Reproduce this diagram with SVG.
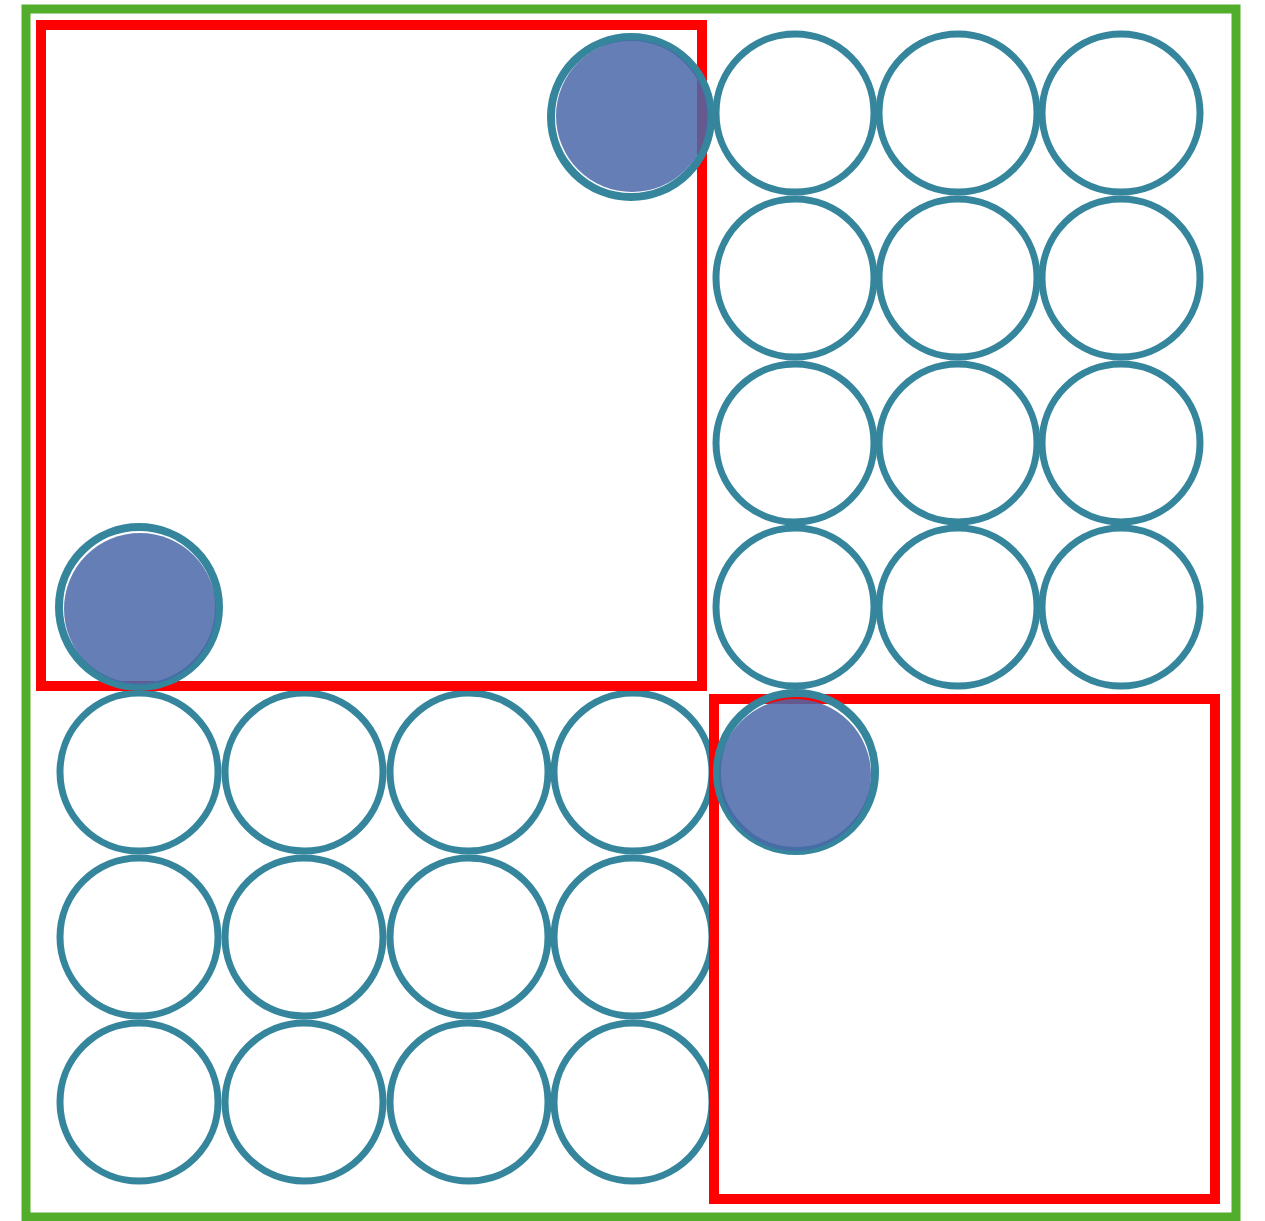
<svg xmlns="http://www.w3.org/2000/svg" width="1265" height="1221" viewBox="0 0 1265 1221">
<style>
.c{fill:none;stroke:#35869d;stroke-width:7}
.f{fill:#4a69a9;fill-opacity:0.85;stroke:none}
.fr{fill:none;stroke:#35869d;stroke-width:8}
.r{fill:none;stroke:#ff0000;stroke-width:10}
.g{fill:none;stroke:#52ad2a;stroke-width:9}
</style>
<rect width="1265" height="1221" fill="#ffffff"/>
<g id="frame"><rect class="g" x="26" y="9" width="1210" height="1208"/></g>
<g id="circles-top-right">
<circle class="c" cx="795" cy="113" r="79"/><circle class="c" cx="958" cy="113" r="79"/><circle class="c" cx="1121" cy="113" r="79"/>
<circle class="c" cx="795" cy="278" r="79"/><circle class="c" cx="958" cy="278" r="79"/><circle class="c" cx="1121" cy="278" r="79"/>
<circle class="c" cx="795" cy="443" r="79"/><circle class="c" cx="958" cy="443" r="79"/><circle class="c" cx="1121" cy="443" r="79"/>
<circle class="c" cx="795" cy="607" r="79"/><circle class="c" cx="958" cy="607" r="79"/><circle class="c" cx="1121" cy="607" r="79"/>
</g>
<g id="circles-bottom-left">
<circle class="c" cx="139" cy="772" r="79"/><circle class="c" cx="304" cy="772" r="79"/><circle class="c" cx="469" cy="772" r="79"/><circle class="c" cx="633" cy="772" r="79"/>
<circle class="c" cx="139" cy="937" r="79"/><circle class="c" cx="304" cy="937" r="79"/><circle class="c" cx="469" cy="937" r="79"/><circle class="c" cx="633" cy="937" r="79"/>
<circle class="c" cx="139" cy="1102" r="79"/><circle class="c" cx="304" cy="1102" r="79"/><circle class="c" cx="469" cy="1102" r="79"/><circle class="c" cx="633" cy="1102" r="79"/>
</g>
<g id="regions">
<rect class="r" x="41" y="25" width="661" height="661"/>
<rect class="r" x="714" y="699" width="501" height="500"/>
</g>
<g id="filled-1"><circle class="fr" cx="631" cy="117" r="80"/><circle class="f" cx="632" cy="116" r="76"/></g>
<g id="filled-2"><circle class="fr" cx="139" cy="607" r="80"/><circle class="f" cx="140" cy="609" r="76"/></g>
<g id="filled-3"><circle class="fr" cx="796" cy="772" r="79"/><circle class="f" cx="795" cy="775" r="76"/></g>
</svg>
